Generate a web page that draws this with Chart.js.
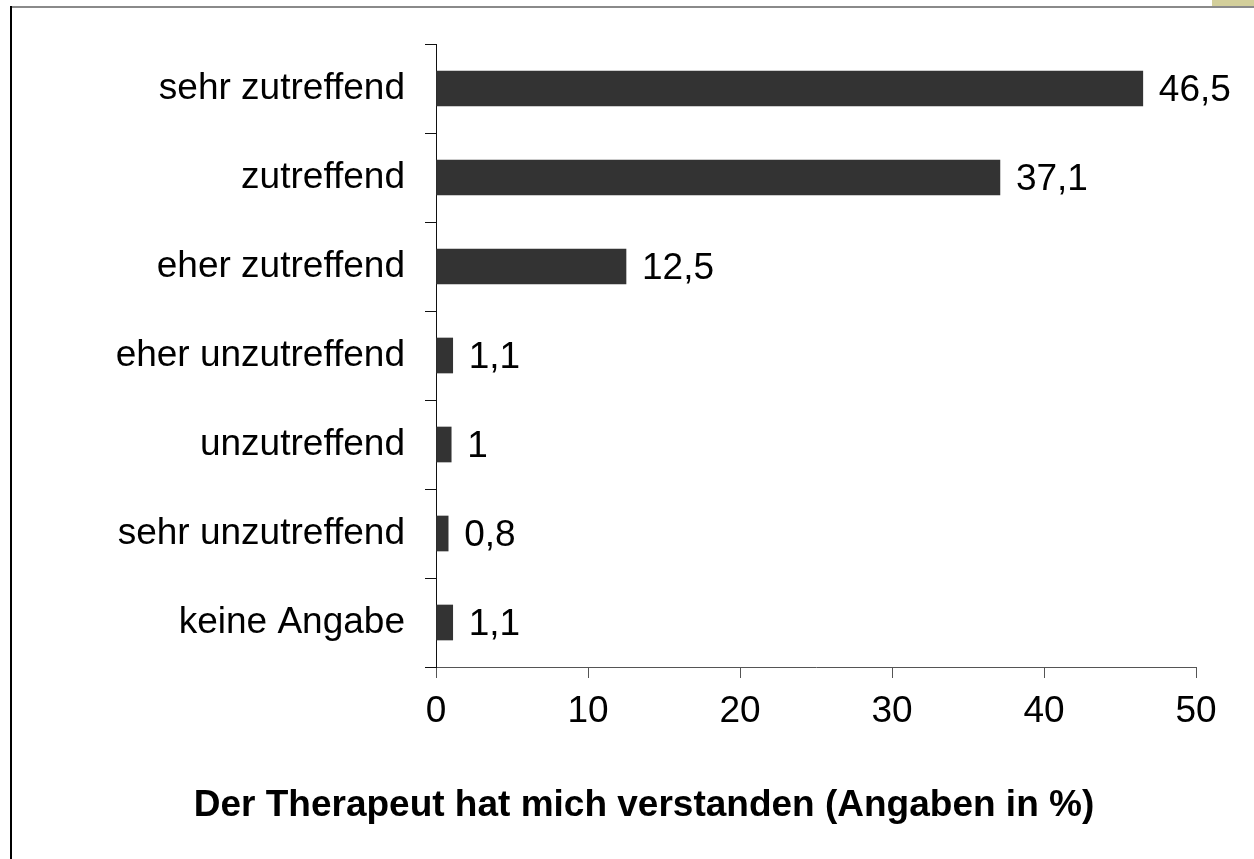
<!DOCTYPE html>
<html>
<head>
<meta charset="utf-8">
<script src="https://cdn.jsdelivr.net/npm/chart.js@4/dist/chart.umd.min.js"></script>
<style>
  html, body { margin: 0; padding: 0; background: #fff; }
  .frame { position: relative; width: 1254px; height: 859px; overflow: hidden; }
  .edge-top { position: absolute; left: 10px; top: 6px; width: 1244px; height: 2px; background: #8a8a8a; }
  .edge-left { position: absolute; left: 10px; top: 6px; width: 2px; height: 853px; background: #000; }
  .corner { position: absolute; left: 1212px; top: 0; width: 42px; height: 6px; background: #d3cf9b; }
  #chart { position: absolute; left: 0; top: 0; }
</style>
</head>
<body>
<div class="frame">
  <div class="corner"></div>
  <div class="edge-top"></div>
  <div class="edge-left"></div>
  <canvas id="chart" width="1254" height="859"></canvas>
</div>
<script>
// answers, top to bottom
const categories = ['sehr zutreffend', 'zutreffend', 'eher zutreffend', 'eher unzutreffend', 'unzutreffend', 'sehr unzutreffend', 'keine Angabe'];
const percentValues = [46.5, 37.1, 12.5, 1.1, 1, 0.8, 1.1];
const xTicks = [0, 10, 20, 30, 40, 50];
const chartTitle = 'Der Therapeut hat mich verstanden (Angaben in %)';

const fontFamily = '"Liberation Sans", Arial, sans-serif';
const fontSize = 37;
Chart.defaults.color = '#000';
Chart.defaults.font.family = fontFamily;

// value labels right of each bar, german decimal comma
const valueLabels = {
  id: 'valueLabels',
  afterDatasetsDraw(chart) {
    const ctx = chart.ctx;
    const meta = chart.getDatasetMeta(0);
    ctx.save();
    ctx.font = fontSize + 'px ' + fontFamily;
    ctx.fillStyle = '#000';
    ctx.textAlign = 'left';
    ctx.textBaseline = 'middle';
    meta.data.forEach((bar, i) => {
      const txt = String(percentValues[i]).replace('.', ',');
      ctx.fillText(txt, bar.x + 16, bar.y + 2);
    });
    ctx.restore();
  }
};

const bottomTitle = {
  id: 'bottomTitle',
  afterDraw(chart) {
    const ctx = chart.ctx;
    ctx.save();
    ctx.font = 'bold ' + fontSize + 'px ' + fontFamily;
    ctx.fillStyle = '#000';
    ctx.textAlign = 'center';
    ctx.textBaseline = 'middle';
    ctx.fillText(chartTitle, 644, 806);
    ctx.restore();
  }
};

new Chart(document.getElementById('chart'), {
  type: 'bar',
  data: {
    labels: categories,
    datasets: [{
      data: percentValues,
      backgroundColor: '#333333',
      borderWidth: 0,
      barThickness: 35
    }]
  },
  options: {
    indexAxis: 'y',
    responsive: false,
    animation: false,
    layout: { padding: { top: 44, right: 58, left: 0, bottom: 0 } },
    plugins: {
      legend: { display: false },
      tooltip: { enabled: false }
    },
    scales: {
      x: {
        min: 0,
        max: 50,
        afterBuildTicks: (scale) => { scale.ticks = xTicks.map(v => ({ value: v })); },
        afterFit: (scale) => { scale.height = 192; },
        grid: { drawOnChartArea: false, tickLength: 11, color: '#555' },
        border: { color: '#555', width: 1 },
        ticks: { font: { size: fontSize }, padding: 12, maxRotation: 0 }
      },
      y: {
        afterFit: (scale) => { scale.width = 436; },
        grid: { drawOnChartArea: false, tickLength: 11, color: '#111', offset: true },
        border: { color: '#111', width: 1 },
        ticks: { font: { size: fontSize }, padding: 20 }
      }
    }
  },
  plugins: [valueLabels, bottomTitle]
});
</script>
</body>
</html>
